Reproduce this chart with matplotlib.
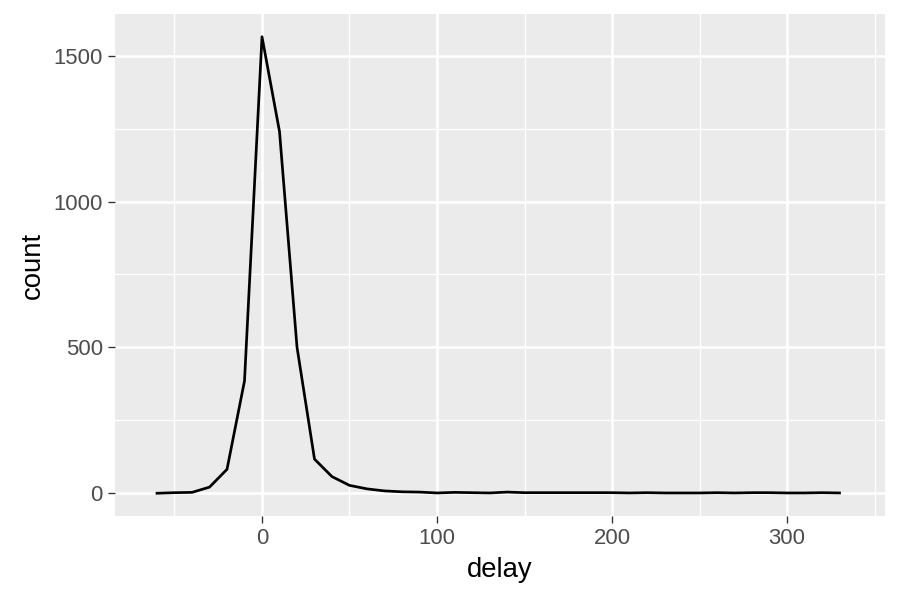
import numpy as np
import matplotlib.pyplot as plt
from matplotlib.ticker import MultipleLocator

# frequency polygon of delay (binwidth 10)
delay = [-60, -50, -40, -30, -20, -10, 0, 10, 20, 30, 40, 50, 60, 70, 80, 90,
         100, 110, 120, 130, 140, 150, 160, 170, 180, 190, 200, 210, 220, 230,
         240, 250, 260, 270, 280, 290, 300, 310, 320, 330]
count = [0, 2, 3, 21, 82, 385, 1565, 1240, 501, 117, 57, 27, 15, 8, 5, 4,
         1, 3, 2, 1, 4, 2, 2, 2, 2, 2, 2, 1, 2, 1,
         1, 1, 2, 1, 2, 2, 1, 1, 2, 1]

plt.rcParams['font.family'] = ['Liberation Sans', 'DejaVu Sans']

fig, ax = plt.subplots(figsize=(6, 4), dpi=150)
fig.subplots_adjust(left=115/900, right=885/900, top=1-14/600, bottom=1-516/600)

ax.set_facecolor('#EBEBEB')
for s in ax.spines.values():
    s.set_visible(False)

ax.plot(delay, count, color='black', linewidth=1.3, solid_joinstyle='round', zorder=3)

ax.set_xlim(-84, 356)
ax.set_ylim(-78, 1643)
ax.xaxis.set_major_locator(MultipleLocator(100))
ax.xaxis.set_minor_locator(MultipleLocator(50))
ax.yaxis.set_major_locator(MultipleLocator(500))
ax.yaxis.set_minor_locator(MultipleLocator(250))

ax.grid(which='major', color='white', linewidth=1.25)
ax.grid(which='minor', color='white', linewidth=0.65)
ax.set_axisbelow(True)

ax.tick_params(which='major', length=3.3, width=0.65, color='#333333',
               labelcolor='#4D4D4D', labelsize=10.6, pad=2.6)
ax.tick_params(which='minor', length=0)

ax.set_xlabel('delay', fontsize=13.2, labelpad=3.5)
ax.set_ylabel('count', fontsize=13.2, labelpad=3.5)

fig.savefig('out.png', dpi=150)
